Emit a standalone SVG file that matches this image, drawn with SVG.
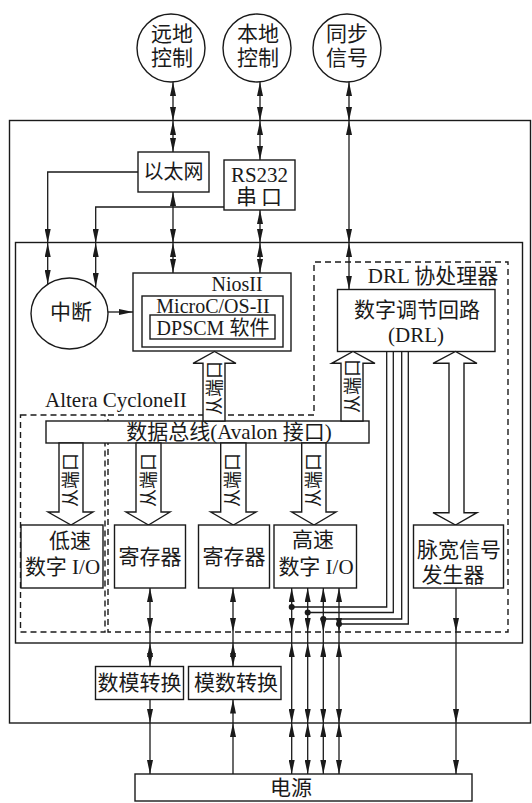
<svg xmlns="http://www.w3.org/2000/svg" width="532" height="803" viewBox="0 0 532 803">
<defs>
<marker id="ah" viewBox="0 0 14 6" refX="14" refY="3" markerWidth="14" markerHeight="6" markerUnits="userSpaceOnUse" orient="auto-start-reverse"><path d="M0,0 L14,3 L0,6 z" fill="#1a1a1a"/></marker>
<style>
text{font-family:"Liberation Serif","Noto Sans CJK SC",serif;font-size:21px;fill:#1a1a1a;dominant-baseline:central;text-anchor:middle}
.b{fill:#fff;stroke:#1a1a1a;stroke-width:1.4}
.n{fill:none;stroke:#1a1a1a;stroke-width:1.4}
.d{fill:none;stroke:#1a1a1a;stroke-width:1.4;stroke-dasharray:6,4}
.c{fill:none;stroke:#1a1a1a;stroke-width:1.3}
.bi{marker-start:url(#ah);marker-end:url(#ah)}
.e{marker-end:url(#ah)}
.ha{fill:#fff;stroke:#1a1a1a;stroke-width:1.4}
.p{font-size:18px}
.s20{font-size:20px}
.dot{fill:#1a1a1a}
</style>
</defs>
<rect width="532" height="803" fill="#fff"/>

<g id="outer"><rect class="n" x="9.5" y="120.5" width="521" height="602.5"/></g>
<g id="altera"><rect class="n" x="15.5" y="242.5" width="507" height="400.5"/>
<text x="45" y="400" style="text-anchor:start">Altera CycloneII</text></g>
<g id="lowspeed-region"><rect class="d" x="20.5" y="415" width="84.5" height="217"/></g>
<g id="drl-region"><path class="d" d="M108,415 H314 V262 H508 V632 H108 Z"/>
<text x="433" y="276">DRL 协处理器</text></g>

<g id="remote"><circle class="b" cx="171" cy="48" r="34"/><text x="172" y="34">远地</text><text x="172" y="58">控制</text></g>
<g id="local"><circle class="b" cx="257" cy="48" r="34"/><text x="258" y="34">本地</text><text x="258" y="58">控制</text></g>
<g id="sync"><circle class="b" cx="347" cy="48" r="34"/><text x="347" y="34">同步</text><text x="347" y="58">信号</text></g>

<g id="ethernet"><rect class="b" x="138" y="152" width="71" height="40"/><text class="s20" x="173.5" y="172">以太网</text></g>
<g id="rs232"><rect class="b" x="224" y="160" width="71" height="50"/><text x="259.5" y="175">RS232</text><text x="261" y="197" style="letter-spacing:4px">串口</text></g>
<g id="interrupt"><ellipse class="b" cx="69.5" cy="313.5" rx="38.5" ry="35.5"/><text x="71" y="312">中断</text></g>

<g id="nios"><rect class="b" x="133" y="273" width="158" height="78"/><text class="s20" x="237" y="284">NiosII</text>
<rect class="b" x="142" y="296" width="141" height="51"/><text class="s20" x="213" y="306">MicroC/OS-II</text>
<rect class="b" x="150" y="315" width="125" height="24"/><text class="s20" x="213" y="327.5">DPSCM 软件</text></g>

<g id="drl"><rect class="b" x="337.5" y="289.5" width="157.5" height="62"/><text x="417" y="310">数字调节回路</text><text x="416" y="335">(DRL)</text></g>

<g id="bus"><rect class="b" x="46" y="421" width="323" height="22"/><text x="229" y="432">数据总线(Avalon 接口)</text></g>

<g id="arrow-nios"><polygon class="ha" points="203,421 203,363.3 193,363.3 214.5,351.5 236,363.3 225,363.3 225,421"/><text class="p" transform="translate(214.5,388) rotate(-90)">从端口</text></g>
<g id="arrow-drl"><polygon class="ha" points="341,421 341,363.3 331.7,363.3 353,351.5 375,363.3 363,363.3 363,421"/><text class="p" transform="translate(352.5,386) rotate(-90)">从端口</text></g>
<g id="arrow-pwm"><polygon class="ha" points="449,363.3 433,363.3 455.5,351.5 477,363.3 464,363.3 464,512.7 477,512.7 455.5,525 433,512.7 449,512.7"/></g>
<g id="arrow-low"><polygon class="ha" points="59,443 83,443 83,512 93,512 71,525 48,512 59,512"/><text class="p" transform="translate(71,480) rotate(-90)">从端口</text></g>
<g id="arrow-reg1"><polygon class="ha" points="136,443 161,443 161,512 170,512 148.5,525 126,512 136,512"/><text class="p" transform="translate(148.5,480) rotate(-90)">从端口</text></g>
<g id="arrow-reg2"><polygon class="ha" points="220.7,443 246,443 246,512 256,512 233.4,525 210.7,512 220.7,512"/><text class="p" transform="translate(233.4,480) rotate(-90)">从端口</text></g>
<g id="arrow-high"><polygon class="ha" points="301.7,443 326,443 326,512 336,512 314,525 291.7,512 301.7,512"/><text class="p" transform="translate(314,480) rotate(-90)">从端口</text></g>

<g id="lowio"><rect class="b" x="21" y="525" width="82" height="63"/><text x="70" y="541">低速</text><text x="62.5" y="567">数字 I/O</text></g>
<g id="reg1"><rect class="b" x="114.5" y="525" width="71" height="63"/><text x="150" y="557">寄存器</text></g>
<g id="reg2"><rect class="b" x="198.5" y="525" width="71" height="63"/><text x="234" y="557">寄存器</text></g>
<g id="highio"><rect class="b" x="274" y="525" width="82.5" height="63"/><text x="313" y="540">高速</text><text x="316" y="567">数字 I/O</text></g>
<g id="pwm"><rect class="b" x="413.5" y="525" width="90" height="63"/><text x="459" y="550">脉宽信号</text><text x="453" y="575">发生器</text></g>
<g id="dac"><rect class="b" x="95.5" y="666.5" width="88" height="33"/><text x="139.5" y="683">数模转换</text></g>
<g id="adc"><rect class="b" x="188.5" y="666.5" width="92.5" height="33"/><text x="236" y="683">模数转换</text></g>
<g id="power"><rect class="b" x="135" y="774" width="337" height="27"/><text x="291" y="788">电源</text></g>

<g id="connectors">
<line class="c bi" x1="173" y1="82" x2="173" y2="121"/>
<line class="c bi" x1="173" y1="121" x2="173" y2="152"/>
<line class="c bi" x1="173" y1="192" x2="173" y2="243"/>
<line class="c bi" x1="173" y1="243" x2="173" y2="273"/>
<line class="c bi" x1="260" y1="82" x2="260" y2="121"/>
<line class="c bi" x1="260" y1="121" x2="260" y2="160"/>
<line class="c bi" x1="260" y1="210" x2="260" y2="243"/>
<line class="c bi" x1="260" y1="243" x2="260" y2="273"/>
<line class="c bi" x1="349" y1="82" x2="349" y2="121"/>
<line class="c bi" x1="349" y1="121" x2="349" y2="243"/>
<line class="c bi" x1="349" y1="243" x2="349" y2="289.5"/>
<polyline class="c e" points="138,172 47.7,172 47.7,243"/>
<line class="c bi" x1="47.7" y1="243" x2="47.7" y2="284"/>
<polyline class="c e" points="224,207 95.7,207 95.7,243"/>
<line class="c bi" x1="95.7" y1="243" x2="95.7" y2="287"/>
<line class="c e" x1="108" y1="312" x2="133" y2="312"/>

<line class="c bi" x1="150" y1="588" x2="150" y2="632"/>
<line class="c" x1="150" y1="632" x2="150" y2="643"/>
<line class="c bi" x1="150" y1="643" x2="150" y2="666.5"/>
<line class="c e" x1="150" y1="699.5" x2="150" y2="723"/>
<line class="c e" x1="150" y1="723" x2="150" y2="774"/>
<line class="c bi" x1="233" y1="588" x2="233" y2="632"/>
<line class="c" x1="233" y1="632" x2="233" y2="643"/>
<line class="c bi" x1="233" y1="643" x2="233" y2="666.5"/>
<line class="c e" x1="233" y1="774" x2="233" y2="723"/>
<line class="c e" x1="233" y1="723" x2="233" y2="699.5"/>

<line class="c bi" x1="291.7" y1="588" x2="291.7" y2="632"/>
<line class="c" x1="291.7" y1="632" x2="291.7" y2="643"/>
<line class="c bi" x1="291.7" y1="643" x2="291.7" y2="723"/>
<line class="c bi" x1="291.7" y1="723" x2="291.7" y2="774"/>
<line class="c bi" x1="307.7" y1="588" x2="307.7" y2="632"/>
<line class="c" x1="307.7" y1="632" x2="307.7" y2="643"/>
<line class="c bi" x1="307.7" y1="643" x2="307.7" y2="723"/>
<line class="c bi" x1="307.7" y1="723" x2="307.7" y2="774"/>
<line class="c bi" x1="323.3" y1="588" x2="323.3" y2="632"/>
<line class="c" x1="323.3" y1="632" x2="323.3" y2="643"/>
<line class="c bi" x1="323.3" y1="643" x2="323.3" y2="723"/>
<line class="c bi" x1="323.3" y1="723" x2="323.3" y2="774"/>
<line class="c bi" x1="339" y1="588" x2="339" y2="632"/>
<line class="c" x1="339" y1="632" x2="339" y2="643"/>
<line class="c bi" x1="339" y1="643" x2="339" y2="723"/>
<line class="c bi" x1="339" y1="723" x2="339" y2="774"/>

<line class="c e" x1="456" y1="588" x2="456" y2="632"/>
<line class="c e" x1="456" y1="632" x2="456" y2="723"/>
<line class="c e" x1="456" y1="723" x2="456" y2="774"/>

<polyline class="c" points="386.7,351.5 386.7,607 291.7,607"/>
<polyline class="c" points="393.3,351.5 393.3,612.5 307.7,612.5"/>
<polyline class="c" points="401.7,351.5 401.7,619 323.3,619"/>
<polyline class="c" points="408.3,351.5 408.3,624 339,624"/>
<circle class="dot" cx="291.7" cy="607" r="3"/>
<circle class="dot" cx="307.7" cy="612.5" r="3"/>
<circle class="dot" cx="323.3" cy="619" r="3"/>
<circle class="dot" cx="339" cy="624" r="3"/>
</g>
</svg>
